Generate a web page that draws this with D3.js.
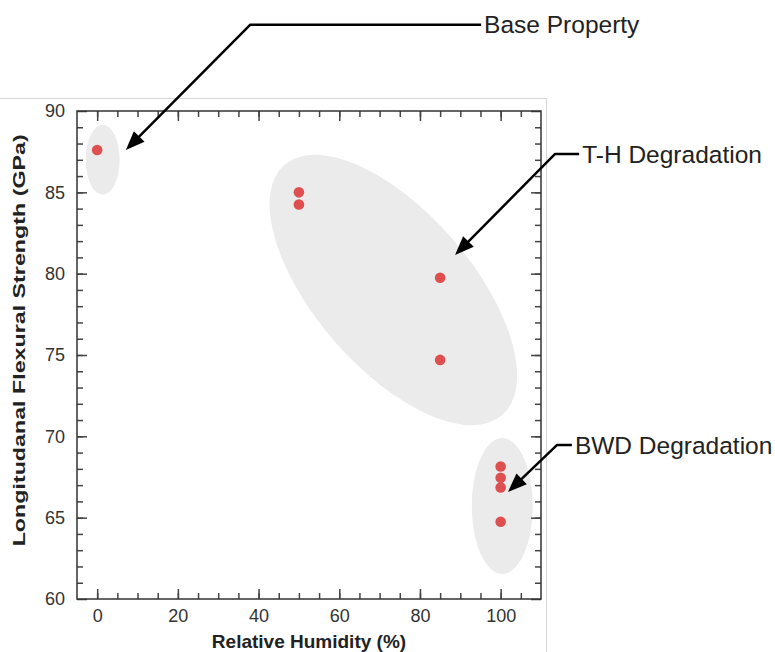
<!DOCTYPE html>
<html>
<head>
<meta charset="utf-8">
<script src="https://cdn.jsdelivr.net/npm/d3@7"></script>
<style>
  body { margin: 0; background: #fff; }
  svg { display: block; font-family: "Liberation Sans", Arial, Helvetica, sans-serif; }
</style>
</head>
<body>
<div id="chart"></div>
<script>
// data
const humidity = [0, 50, 50, 85, 85, 100, 100, 100, 100];
const strength = [87.6, 85.0, 84.25, 79.75, 74.7, 68.15, 67.45, 66.85, 64.75];

// shaded groups (centre + semi axes in data units, rotation in degrees)
const groupCx = [1.36, 73.4, 100.4];
const groupCy = [87.0, 79.0, 65.72];
const groupRx = [4.2, 41.1, 7.56];
const groupRy = [2.15, 4.8, 4.18];
const groupAngle = [0, 49, 0];

// callouts
const annoLabels = ["Base Property", "T-H Degradation", "BWD Degradation"];
const annoTipX = [7.1, 88.7, 101.8];
const annoTipY = [87.6, 81.15, 66.58];
const annoElbowX = [37.9, 113.5, 114.0];
const annoElbowY = [95.3, 87.36, 69.47];
const annoTextX = [95.9, 120.2, 118.4];

const xMajorTicks = [0, 20, 40, 60, 80, 100];
const yMajorTicks = [60, 65, 70, 75, 80, 85, 90];

const dimensions = {
  width: 775,
  height: 652,
  margin: { top: 111, right: 234, bottom: 53, left: 77 },
};
dimensions.boundedWidth =
  dimensions.width - dimensions.margin.left - dimensions.margin.right;
dimensions.boundedHeight =
  dimensions.height - dimensions.margin.top - dimensions.margin.bottom;

const wrapper = d3
  .select("#chart")
  .append("svg")
  .attr("width", dimensions.width)
  .attr("height", dimensions.height);

// faint border of the original image
wrapper.append("path")
  .attr("d", `M0,98.5H546.5V${dimensions.height}`)
  .attr("fill", "none")
  .attr("stroke", "#d8d8d8")
  .attr("stroke-width", 1);

const bounds = wrapper
  .append("g")
  .attr("transform", `translate(${dimensions.margin.left},${dimensions.margin.top})`);

const xScale = d3.scaleLinear().domain([-5, 110]).range([0, dimensions.boundedWidth]);
const yScale = d3.scaleLinear().domain([60, 90]).range([dimensions.boundedHeight, 0]);
const kx = xScale(1) - xScale(0);
const ky = yScale(0) - yScale(1);

// ellipses
groupCx.forEach((cx, i) => {
  bounds.append("ellipse")
    .attr("transform", `translate(${xScale(cx)},${yScale(groupCy[i])}) rotate(${groupAngle[i]})`)
    .attr("rx", groupRx[i] * kx)
    .attr("ry", groupRy[i] * ky)
    .attr("fill", "#ebebeb");
});

// axes: minor + major ticks pointing inward
const minorX = d3.range(0, 110, 5);
const minorY = d3.range(61, 90, 1);
const tickColor = "#444";

function styleAxis(g) {
  g.select(".domain").remove();
  g.selectAll(".tick line").attr("stroke", tickColor).attr("stroke-width", 1.5);
  g.selectAll(".tick text")
    .attr("fill", "#333")
    .style("font-size", "18px")
    .style("font-family", '"Liberation Sans", Arial, Helvetica, sans-serif');
}

// bottom
bounds.append("g")
  .attr("transform", `translate(0,${dimensions.boundedHeight})`)
  .call(d3.axisBottom(xScale).tickValues(minorX).tickSize(-6).tickFormat(""))
  .call(styleAxis);
bounds.append("g")
  .attr("transform", `translate(0,${dimensions.boundedHeight})`)
  .call(d3.axisBottom(xScale).tickValues(xMajorTicks).tickSize(-10).tickPadding(10).tickFormat(d3.format("d")))
  .call(styleAxis);
// top
bounds.append("g")
  .call(d3.axisTop(xScale).tickValues(minorX).tickSize(-6).tickFormat(""))
  .call(styleAxis);
bounds.append("g")
  .call(d3.axisTop(xScale).tickValues(xMajorTicks).tickSize(-10).tickFormat(""))
  .call(styleAxis);
// left
bounds.append("g")
  .call(d3.axisLeft(yScale).tickValues(minorY).tickSize(-6).tickFormat(""))
  .call(styleAxis);
bounds.append("g")
  .call(d3.axisLeft(yScale).tickValues(yMajorTicks).tickSize(-10).tickPadding(12).tickFormat(d3.format("d")))
  .call(styleAxis);
// right
bounds.append("g")
  .attr("transform", `translate(${dimensions.boundedWidth},0)`)
  .call(d3.axisRight(yScale).tickValues(minorY).tickSize(-6).tickFormat(""))
  .call(styleAxis);
bounds.append("g")
  .attr("transform", `translate(${dimensions.boundedWidth},0)`)
  .call(d3.axisRight(yScale).tickValues(yMajorTicks).tickSize(-10).tickFormat(""))
  .call(styleAxis);

// frame
bounds.append("rect")
  .attr("width", dimensions.boundedWidth)
  .attr("height", dimensions.boundedHeight)
  .attr("fill", "none")
  .attr("stroke", "#333")
  .attr("stroke-width", 1.5);

// points
bounds.selectAll("circle.pt")
  .data(humidity)
  .join("circle")
  .attr("class", "pt")
  .attr("cx", (d) => xScale(d))
  .attr("cy", (d, i) => yScale(strength[i]))
  .attr("r", 5.3)
  .attr("fill", "#de4f4f");

// axis titles
bounds.append("text")
  .attr("x", dimensions.boundedWidth / 2)
  .attr("y", dimensions.boundedHeight + 49)
  .attr("text-anchor", "middle")
  .attr("font-weight", "bold")
  .attr("font-size", 19)
  .attr("fill", "#222")
  .text("Relative Humidity (%)");

bounds.append("text")
  .attr("transform", `translate(${-52},${yScale(75.9)}) rotate(-90)`)
  .attr("text-anchor", "middle")
  .attr("font-weight", "bold")
  .attr("font-size", 17)
  .attr("fill", "#222")
  .attr("textLength", 412)
  .attr("lengthAdjust", "spacingAndGlyphs")
  .text("Longitudanal Flexural Strength (GPa)");

// callouts with arrows
const headLen = 19;
const headHalf = 7.5;
annoLabels.forEach((label, i) => {
  const tx = xScale(annoTipX[i]), ty = yScale(annoTipY[i]);
  const ex = xScale(annoElbowX[i]), ey = yScale(annoElbowY[i]);
  const lx = xScale(annoTextX[i]);
  const len = Math.hypot(tx - ex, ty - ey);
  const ux = (tx - ex) / len, uy = (ty - ey) / len;
  const bx = tx - ux * headLen, by = ty - uy * headLen;

  bounds.append("path")
    .attr("d", `M${lx - 3},${ey}H${ex}L${bx + ux * 4},${by + uy * 4}`)
    .attr("fill", "none")
    .attr("stroke", "#000")
    .attr("stroke-width", 2.5)
    .attr("stroke-linejoin", "round");

  bounds.append("path")
    .attr("d", `M${tx},${ty}L${bx - uy * headHalf},${by + ux * headHalf}L${bx + uy * headHalf},${by - ux * headHalf}Z`)
    .attr("fill", "#000");

  bounds.append("text")
    .attr("x", lx)
    .attr("y", ey)
    .attr("dy", "0.35em")
    .attr("font-size", 24.5)
    .attr("fill", "#222")
    .text(label);
});
</script>
</body>
</html>
